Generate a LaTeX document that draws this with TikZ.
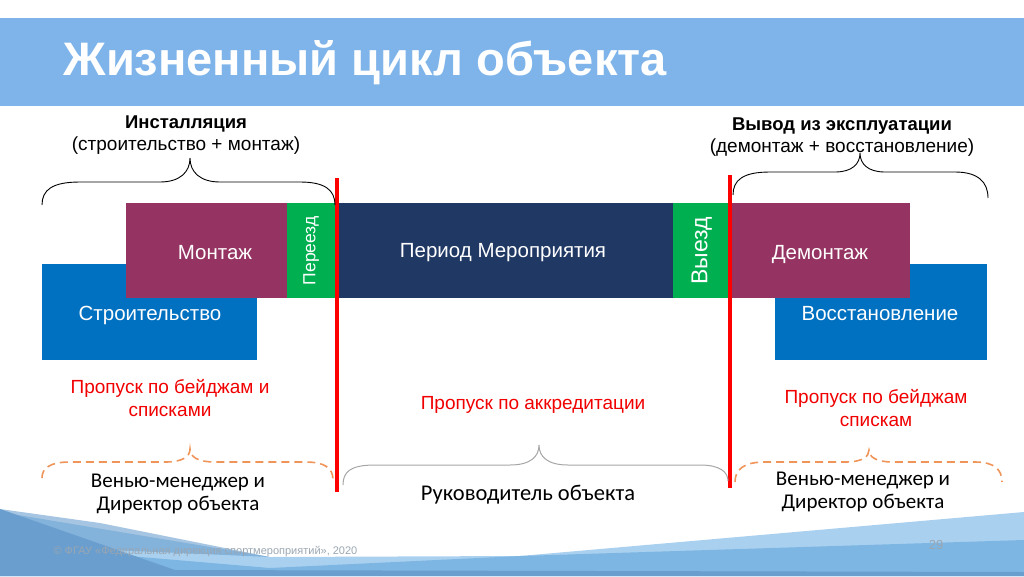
\documentclass[tikz,border=0pt]{standalone}
\usepackage{fontspec}
\setmainfont{Liberation Sans}
\newfontfamily\calibri{Carlito}
\usetikzlibrary{positioning}
\definecolor{TitleColor}{HTML}{7EB4EA}
\definecolor{BuildColor}{HTML}{0070C0}
\definecolor{MountColor}{HTML}{953462}
\definecolor{MoveColor}{HTML}{00B050}
\definecolor{EventColor}{HTML}{203864}
\definecolor{PassColor}{HTML}{F00000}
\definecolor{DashColor}{HTML}{F0955A}
\definecolor{GrayBrace}{HTML}{A6A6A6}
\definecolor{WaveA}{HTML}{A9D0EF}
\definecolor{WaveB}{HTML}{7DB6E2}
\definecolor{WaveC}{HTML}{6A9ECE}
\definecolor{FootColor}{HTML}{9AA6B2}
\tikzstyle{phase_block}=[rectangle,
                         inner sep=0pt,
                         anchor=north west]
\tikzstyle{phase_text}=[text=white,
                        font=\fontsize{20.5}{22}\selectfont]
\tikzstyle{pass_text}=[text=PassColor, align=center,
                       font=\fontsize{19}{23}\selectfont]
\tikzstyle{resp_text}=[align=center,
                       font=\calibri\fontsize{21}{23}\selectfont]
\tikzstyle{brace_line}=[line width=0.9pt, black]
\tikzstyle{dash_brace}=[line width=1.6pt, DashColor, dash pattern=on 8pt off 5pt]
\tikzstyle{border_line}=[line width=4pt, red]

\begin{document}
\begin{tikzpicture}[x=1pt, y=-1pt]
    \useasboundingbox (0,0) rectangle (1024,576);

    % ---------------------------------------------------------------------------------------------------------
    %  Kop
    \fill[TitleColor] (0,18) rectangle (1024,106);
    \node at (60,63) (title) [anchor=west, text=white, font=\fontseries{b}\fontshape{n}\fontsize{47}{50}\selectfont] {Жизненный цикл объекта};

    % ---------------------------------------------------------------------------------------------------------
    %  Blokken
    \node at (42,264) (Build) [phase_block, fill=BuildColor, minimum width=215pt, minimum height=96pt] {};
    \node at (150,315) (BuildText) [phase_text] {Строительство};
    \node at (775,264) (Restore) [phase_block, fill=BuildColor, minimum width=212pt, minimum height=96pt] {};
    \node at (880,314) (RestoreText) [phase_text] {Восстановление};

    \node at (126,203) (Mount) [phase_block, fill=MountColor, minimum width=161pt, minimum height=95pt] {};
    \node at (215,253) (MountText) [phase_text] {Монтаж};
    \node at (287,203) (MoveIn) [phase_block, fill=MoveColor, minimum width=48pt, minimum height=95pt] {};
    \node at (MoveIn.center) (MoveInText) [rotate=90, text=white, font=\fontsize{17.5}{19}\selectfont] {Переезд};
    \node at (335,203) (Event) [phase_block, fill=EventColor, minimum width=338pt, minimum height=95pt] {};
    \node at (503,253) (EventText) [phase_text] {Период Мероприятия};
    \node at (673,203) (MoveOut) [phase_block, fill=MoveColor, minimum width=57pt, minimum height=95pt] {};
    \node at (MoveOut.center) (MoveOutText) [rotate=90, text=white, font=\fontsize{23}{25}\selectfont] {Выезд};
    \node at (730,203) (Dismount) [phase_block, fill=MountColor, minimum width=180pt, minimum height=95pt] {};
    \node at (820,254) (DismountText) [phase_text] {Демонтаж};

    % ---------------------------------------------------------------------------------------------------------
    %  Grenzen
    \coordinate (line-1-t) at (337,178);
    \coordinate (line-1-b) at (337,492);
    \coordinate (line-2-t) at (730,175);
    \coordinate (line-2-b) at (730,488);
    \draw[border_line] (line-1-t) -- (line-1-b);
    \draw[border_line] (line-2-t) -- (line-2-b);

    % ---------------------------------------------------------------------------------------------------------
    %  Accolades boven
    \node at (186,124) (Install) [font=\bfseries\fontsize{18.5}{20}\selectfont] {Инсталляция};
    \node at (186,146) (InstallSub) [font=\fontsize{19}{20}\selectfont] {(строительство + монтаж)};
    \draw[brace_line] (42,205) .. controls (42,190) and (52,182) .. (80,182) -- (160,182)
        .. controls (180,182) and (190,172) .. (190,158)
        .. controls (190,172) and (200,182) .. (220,182) -- (300,182)
        .. controls (325,182) and (335,190) .. (335,205);

    \node at (842,126) (Output) [font=\bfseries\fontsize{18.5}{20}\selectfont] {Вывод из эксплуатации};
    \node at (842,148) (OutputSub) [font=\fontsize{19}{20}\selectfont] {(демонтаж + восстановление)};
    \draw[brace_line] (733,195) .. controls (733,180) and (743,172) .. (770,172) -- (835,172)
        .. controls (852,172) and (860,164) .. (860,153)
        .. controls (860,164) and (868,172) .. (885,172) -- (955,172)
        .. controls (978,172) and (988,182) .. (988,198);

    % ---------------------------------------------------------------------------------------------------------
    %  Toegang
    \node at (170,398) (PassL) [pass_text] {Пропуск по бейджам и\\списками};
    \node at (533,405) (PassC) [pass_text] {Пропуск по аккредитации};
    \node at (876,408) (PassR) [pass_text] {Пропуск по бейджам\\спискам};

    % ---------------------------------------------------------------------------------------------------------
    %  Accolades onder
    \draw[dash_brace] (42,478) .. controls (42,468) and (50,462) .. (70,462) -- (165,462)
        .. controls (182,462) and (190,457) .. (190,449)
        .. controls (190,457) and (198,462) .. (215,462) -- (305,462)
        .. controls (325,462) and (333,468) .. (333,480);
    \draw[line width=1pt, GrayBrace] (343,485) .. controls (343,472) and (350,465) .. (375,465) -- (510,465)
        .. controls (530,465) and (539,457) .. (539,445)
        .. controls (539,457) and (548,465) .. (568,465) -- (700,465)
        .. controls (720,465) and (728,472) .. (728,481);
    \draw[dash_brace] (735,482) .. controls (735,470) and (743,462) .. (765,462) -- (845,462)
        .. controls (862,462) and (869,457) .. (869,450)
        .. controls (869,457) and (876,462) .. (893,462) -- (975,462)
        .. controls (995,462) and (1002,470) .. (1002,482);

    \node at (178,494) (RespL) [resp_text] {Венью-менеджер и\\Директор объекта};
    \node at (528,495) (RespC) [resp_text, font=\calibri\fontsize{22.5}{24}\selectfont] {Руководитель объекта};
    \node at (863,492) (RespR) [resp_text] {Венью-менеджер и\\Директор объекта};

    % ---------------------------------------------------------------------------------------------------------
    %  Golven
    \fill[WaveA] (0,512) -- (270,557) -- (520,556) -- (1024,512) -- (1024,576) -- (0,576) -- cycle;
    \fill[WaveB] (0,545) -- (270,568) -- (520,556) -- (1024,540) -- (1024,576) -- (0,576) -- cycle;
    \fill[WaveC] (0,509) -- (175,570) -- (1024,572) -- (1024,576) -- (0,576) -- cycle;
    \fill[WaveC, opacity=0.6] (0,509) -- (100,523) -- (270,557) -- (0,545) -- cycle;

    \node at (50,552) (Footer) [anchor=west, text=FootColor, font=\fontsize{11}{12}\selectfont] {© ФГАУ «Федеральная дирекция спортмероприятий», 2020};
    \node at (936,545) (PageNr) [text=FootColor, font=\fontsize{13}{15}\selectfont] {29};
\end{tikzpicture}
\end{document}
